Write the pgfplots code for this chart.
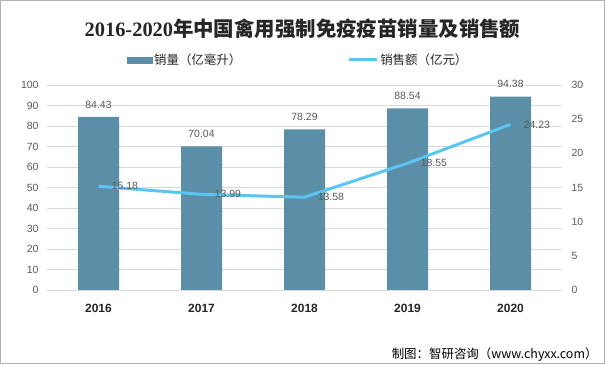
\documentclass[border=0pt]{standalone}
\usepackage{pgfplots}
\pgfplotsset{compat=1.18}
\usepackage{fontspec}
\setmainfont{Liberation Sans}
\newfontfamily\cjk{Noto Sans CJK SC}
\newfontfamily\tnr{Liberation Serif}
\definecolor{barc}{HTML}{5B8FA8}
\definecolor{linec}{HTML}{5BC5F2}
\definecolor{tickc}{HTML}{595959}
\definecolor{gridc}{HTML}{D9D9D9}
\pgfplotstableread{
x y l
0 84.43 84.43
1 70.04 70.04
2 78.29 78.29
3 88.54 88.54
4 94.38 94.38
}\vol
\pgfplotstableread{
x y l
0 15.18 15.18
1 13.99 13.99
2 13.58 13.58
3 18.55 18.55
4 24.23 24.23
}\sales
\begin{document}
\begin{tikzpicture}[x=1bp,y=1bp]
\path (0,0) rectangle (605,364);
\draw[color=black!30, line width=1bp] (0.5,0.5) rectangle (604.5,363.5);
\node[font=\fontsize{20.5}{25}\selectfont\bfseries, text=black!85] at (302.5,335) {\tnr 2016-2020\cjk 年中国禽用强制免疫疫苗销量及销售额};
\node[anchor=east, font=\cjk\fontsize{12.5}{14}\selectfont] at (601,9.5) {制图：智研咨询（www.chyxx.com）};
\begin{axis}[
 at={(47bp,74bp)}, anchor=south west, scale only axis, width=515bp, height=205bp,
 xmin=-0.5, xmax=4.5, ymin=0, ymax=100,
 xtick={0,...,4}, xticklabels={2016,2017,2018,2019,2020},
 ytick={0,10,...,100},
 axis line style={draw=none}, major tick length=0pt,
 ymajorgrids, major grid style={gridc, line width=0.8bp},
 tick label style={color=tickc, font=\fontsize{10.5}{12}\selectfont},
 xticklabel style={color=black!85, font=\fontsize{12}{14}\selectfont\bfseries, yshift=-11bp},
 yticklabel style={xshift=-5bp},
 /pgf/number format/assume math mode=true,
 clip=false,
]
\addplot[ybar, bar width=41bp, fill=barc, draw=none, nodes near coords,
  nodes near coords style={color=tickc, font=\fontsize{10.5}{12}\selectfont, yshift=5bp},
  point meta=explicit symbolic] table[x=x, y=y, meta=l] {\vol};
\end{axis}
\begin{axis}[
 at={(47bp,74bp)}, anchor=south west, scale only axis, width=515bp, height=205bp,
 xmin=-0.5, xmax=4.5, ymin=0, ymax=30,
 xtick=\empty, ytick={0,5,...,30},
 yticklabel pos=right,
 axis line style={draw=none}, major tick length=0pt,
 tick label style={color=tickc, font=\fontsize{10.5}{12}\selectfont},
 yticklabel style={xshift=6bp},
 /pgf/number format/assume math mode=true,
 clip=false,
 legend style={at={(0.4875,1.122)}, anchor=center, draw=none, fill=none,
   font=\cjk\fontsize{12.5}{14}\selectfont, text=black!85,
   /tikz/every even column/.append style={column sep=104bp}},
 legend columns=2, legend cell align=left,
]
\addlegendimage{legend image code/.code={\fill[barc] (0bp,-3bp) rectangle (25bp,3bp);}}
\addlegendentry{销量（亿毫升）}
\addplot[linec, line width=3bp, mark=none, nodes near coords,
  nodes near coords style={anchor=west, xshift=8.5bp, color=tickc, font=\fontsize{10.5}{12}\selectfont},
  point meta=explicit symbolic,
  legend image code/.code={\draw[linec, line width=3bp] (0bp,0bp) -- (28bp,0bp);}] table[x=x, y=y, meta=l] {\sales};
\addlegendentry{销售额（亿元）}
\end{axis}
\end{tikzpicture}
\end{document}
